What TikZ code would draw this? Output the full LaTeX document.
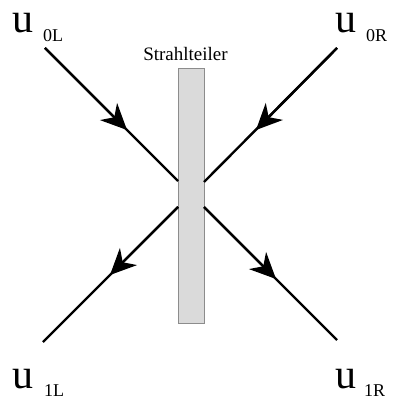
\documentclass[tikz,border=0pt]{standalone}
\usepackage{fontspec}
\setmainfont{Liberation Serif}
\usetikzlibrary{arrows.meta}
\definecolor{splitfill}{HTML}{DADADA}
\definecolor{splitdraw}{HTML}{8C8C8C}
\tikzset{
  beam/.style={line width=2.4pt, black},
  beamarrow/.style={line width=2.4pt, black, -{Stealth[length=26pt, width=24pt, inset=8pt]}},
  ulabel/.style={inner sep=0pt, anchor=base west, font=\fontsize{42}{42}\selectfont},
  sublabel/.style={inner sep=0pt, anchor=base west, font=\fontsize{18}{18}\selectfont},
}
\begin{document}
\begin{tikzpicture}[x=1pt, y=-1pt]
\useasboundingbox (0,0) rectangle (393,401);
% beam splitter
\draw[fill=splitfill, draw=splitdraw, line width=0.8pt] (178,68) rectangle (204,323);
\node[inner sep=0pt, anchor=base, font=\fontsize{19}{19}\selectfont] (st) at (185.5,61) {Strahlteiler};
% beam end points
\coordinate (p0L) at (45,48);
\coordinate (s0L) at (178,181);
\coordinate (p0R) at (337,48);
\coordinate (s0R) at (204,182);
\coordinate (s1L) at (178,207);
\coordinate (p1L) at (43,342);
\coordinate (s1R) at (204,207);
\coordinate (p1R) at (337,340);
% arrow tips
\coordinate (t0L) at (127,130);
\coordinate (t0R) at (256,130);
\coordinate (t1L) at (110,275);
\coordinate (t1R) at (276,279);
% beams
\draw[beam] (p0L) -- (s0L);
\draw[beam] (p0R) -- (s0R);
\draw[beam] (s1L) -- (p1L);
\draw[beam] (s1R) -- (p1R);
\draw[beamarrow] (p0L) -- (t0L);
\draw[beamarrow] (p0R) -- (t0R);
\draw[beamarrow] (s1L) -- (t1L);
\draw[beamarrow] (s1R) -- (t1R);
% labels
\node[ulabel] (u0L) at (12,33) {u};
\node[sublabel] (i0L) at (43,42) {0L};
\node[ulabel] (u0R) at (335,33) {u};
\node[sublabel] (i0R) at (366,42) {0R};
\node[ulabel] (u1L) at (12,388) {u};
\node[sublabel] (i1L) at (44,396) {1L};
\node[ulabel] (u1R) at (335,388) {u};
\node[sublabel] (i1R) at (364,396) {1R};
\end{tikzpicture}
\end{document}
